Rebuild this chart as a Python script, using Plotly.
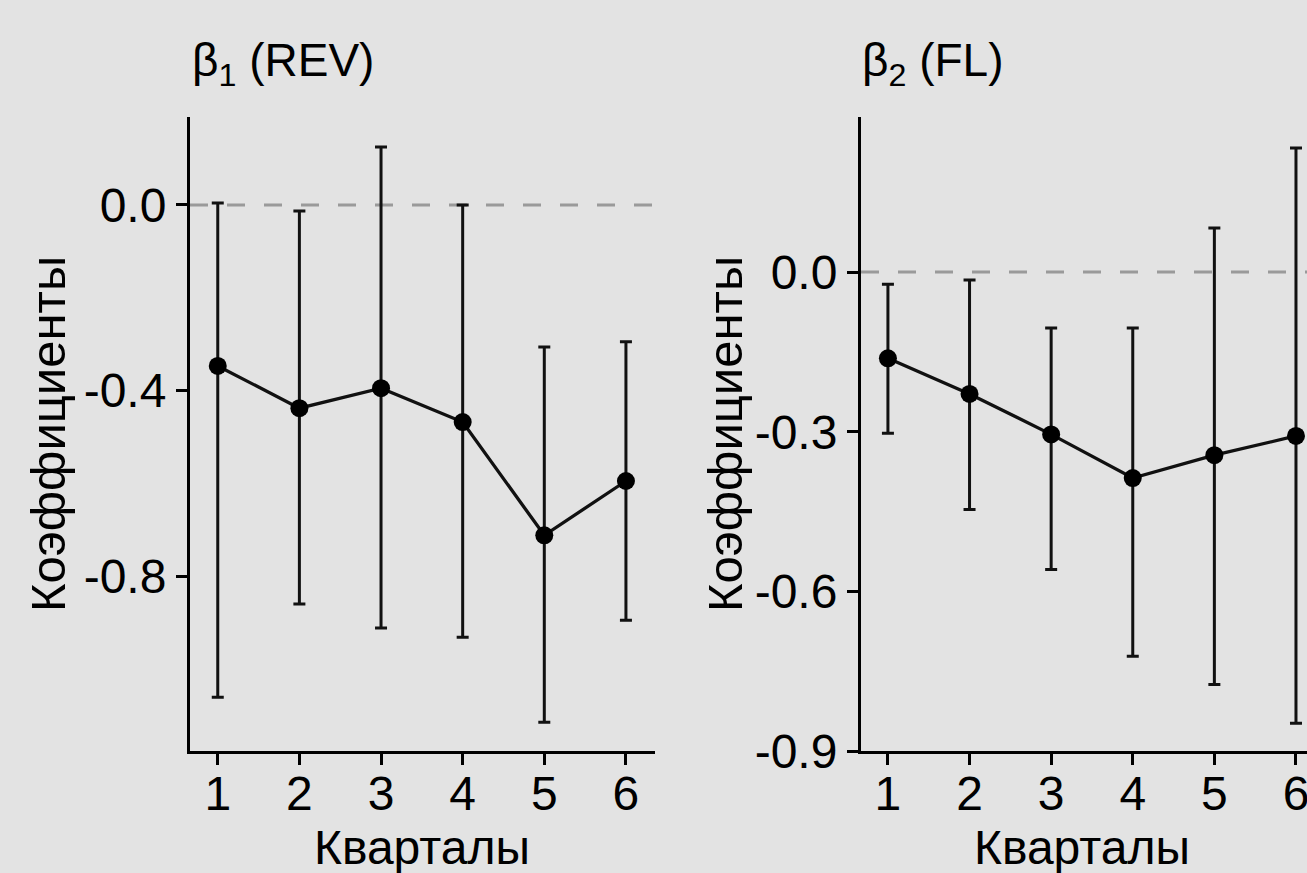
import plotly.graph_objects as go

quarters = [1, 2, 3, 4, 5, 6]

# beta1 (REV)
rev_coef = [-0.347, -0.438, -0.395, -0.468, -0.712, -0.595]
rev_low = [-1.061, -0.860, -0.912, -0.932, -1.115, -0.895]
rev_high = [0.004, -0.013, 0.125, 0.000, -0.306, -0.295]

# beta2 (FL)
fl_coef = [-0.162, -0.229, -0.305, -0.387, -0.344, -0.308]
fl_low = [-0.303, -0.446, -0.559, -0.722, -0.775, -0.848]
fl_high = [-0.023, -0.015, -0.105, -0.105, 0.083, 0.233]

rev_ticks = [0.0, -0.4, -0.8]
rev_ticktext = ["0.0", "-0.4", "-0.8"]
fl_ticks = [0.0, -0.3, -0.6, -0.9]
fl_ticktext = ["0.0", "-0.3", "-0.6", "-0.9"]

titles = ["β<sub>1</sub> (REV)", "β<sub>2</sub> (FL)"]
x_title = "Кварталы"
y_title = "Коэффициенты"

BG = "#e3e3e3"
FONT = "Liberation Sans, Arial, Helvetica, sans-serif"
W, H = 1307, 873

fig = go.Figure()

def add_series(coef, low, high, xa, ya):
    fig.add_trace(go.Scatter(
        x=quarters, y=coef, xaxis=xa, yaxis=ya,
        mode="lines+markers",
        line=dict(color="#111111", width=3.3),
        marker=dict(color="#000000", size=18),
        error_y=dict(
            type="data", symmetric=False,
            array=[h - c for h, c in zip(high, coef)],
            arrayminus=[c - l for c, l in zip(coef, low)],
            color="#111111", thickness=3, width=6,
        ),
        showlegend=False,
    ))

add_series(rev_coef, rev_low, rev_high, "x", "y")
add_series(fl_coef, fl_low, fl_high, "x2", "y2")

def px_x(p):
    return p / W

def px_y(p):
    return 1 - p / H

axis_common = dict(
    showgrid=False, zeroline=False, showline=True, linecolor="black", linewidth=3,
    ticks="outside", ticklen=11, tickwidth=3, tickcolor="black", automargin=False,
    ticklabeloverflow="allow",
    tickfont=dict(family=FONT, size=48, color="black"),
)

fig.update_layout(
    template="none",
    width=W, height=H, autosize=False,
    margin=dict(l=0, r=0, t=0, b=0, pad=0),
    paper_bgcolor=BG, plot_bgcolor=BG,
    font=dict(family=FONT, color="black"),
    xaxis=dict(domain=[px_x(190), px_x(655)], range=[0.66, 6.356],
               tickvals=quarters, anchor="y", ticklabelstandoff=-13, **axis_common),
    yaxis=dict(domain=[px_y(751), px_y(117.3)], range=[-1.177, 0.189],
               tickvals=rev_ticks, ticktext=rev_ticktext, anchor="x", **axis_common),
    xaxis2=dict(domain=[px_x(861), 1.0], range=[0.67, 6.135],
                tickvals=quarters, anchor="y2", ticklabelstandoff=-13, **axis_common),
    yaxis2=dict(domain=[px_y(751), px_y(116.7)], range=[-0.9, 0.292],
                tickvals=fl_ticks, ticktext=fl_ticktext, anchor="x2", **axis_common),
)

for xa, ya in [("x", "y"), ("x2", "y2")]:
    fig.add_shape(type="line", xref=f"{xa} domain", yref=ya, x0=0, x1=1, y0=0, y1=0,
                  line=dict(color="#9a9a9a", width=3, dash="18px,19px"), layer="below")

# panel titles
for text, xpx in [(titles[0], 190), (titles[1], 860)]:
    fig.add_annotation(text=text, xref="paper", yref="paper", x=px_x(xpx), y=px_y(64),
                       xanchor="left", yanchor="middle", showarrow=False,
                       font=dict(family=FONT, size=46, color="black"))

# axis titles
for xc in [422, 1082]:
    fig.add_annotation(text=x_title, xref="paper", yref="paper", x=px_x(xc),
                       y=px_y(847), xanchor="center", yanchor="middle", showarrow=False,
                       font=dict(family=FONT, size=48, color="black"))
for xc in [48, 725]:
    fig.add_annotation(text=y_title, xref="paper", yref="paper", x=px_x(xc), y=px_y(434),
                       xanchor="center", yanchor="middle", showarrow=False, textangle=-90,
                       font=dict(family=FONT, size=49, color="black"))

fig.write_html("out.html", config={"displayModeBar": False},
               post_script="document.body.style.margin='0';document.body.style.overflow='hidden';")
